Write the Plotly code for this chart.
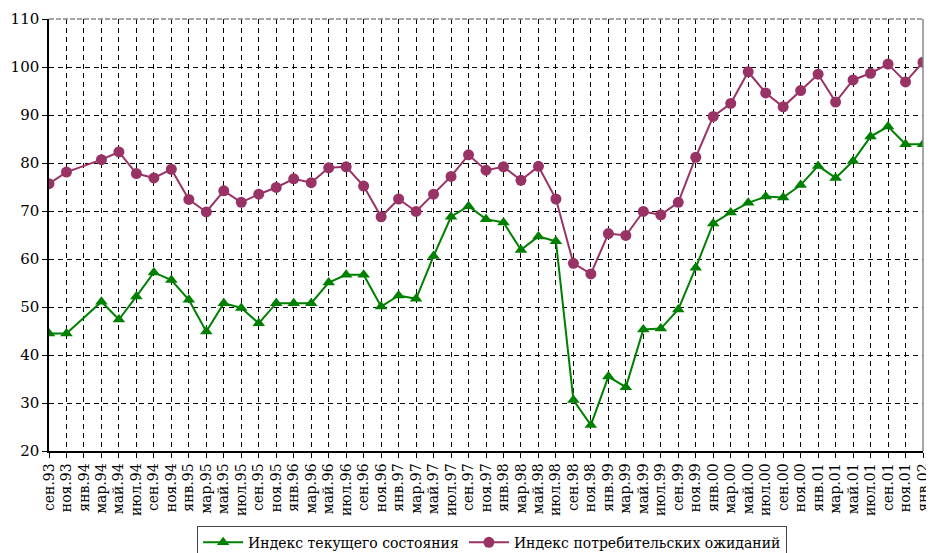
import plotly.graph_objects as go

categories = ["сен.93","ноя.93","янв.94","мар.94","май.94","июл.94","сен.94","ноя.94",
              "янв.95","мар.95","май.95","июл.95","сен.95","ноя.95","янв.96","мар.96",
              "май.96","июл.96","сен.96","ноя.96","янв.97","мар.97","май.97","июл.97",
              "сен.97","ноя.97","янв.98","мар.98","май.98","июл.98","сен.98","ноя.98",
              "янв.99","мар.99","май.99","июл.99","сен.99","ноя.99","янв.00","мар.00",
              "май.00","июл.00","сен.00","ноя.00","янв.01","мар.01","май.01","июл.01",
              "сен.01","ноя.01","янв.02"]

current_index = [44.5, 44.5, None, 51.1, 47.4, 52.2, 57.2, 55.6,
                 51.5, 44.9, 50.8, 49.8, 46.6, 50.8, 50.8, 50.8,
                 55.1, 56.7, 56.7, 50.1, 52.4, 51.7, 60.6, 68.8,
                 71.0, 68.3, 67.6, 61.9, 64.7, 63.7, 30.6, 25.4,
                 35.5, 33.3, 45.3, 45.5, 49.5, 58.2, 67.4, 69.7,
                 71.7, 73.0, 72.8, 75.4, 79.4, 76.9, 80.4, 85.5,
                 87.6, 83.9, 83.9]

expect_index = [75.7, 78.1, None, 80.7, 82.3, 77.8, 76.9, 78.7,
                72.4, 69.8, 74.2, 71.8, 73.5, 74.9, 76.7, 75.9,
                79.0, 79.2, 75.2, 68.8, 72.5, 69.9, 73.5, 77.2,
                81.7, 78.5, 79.2, 76.4, 79.3, 72.5, 59.1, 56.9,
                65.3, 64.9, 69.9, 69.2, 71.8, 81.2, 89.7, 92.4,
                99.0, 94.6, 91.7, 95.1, 98.5, 92.7, 97.3, 98.7,
                100.6, 96.9, 101.0]

series_names = ["Индекс текущего состояния", "Индекс потребительских ожиданий"]
y_ticks = [20, 30, 40, 50, 60, 70, 80, 90, 100, 110]

FONT = "DejaVu Serif"

fig = go.Figure()
fig.add_trace(go.Scatter(x=categories, y=current_index, name=series_names[0],
                         mode="lines+markers", connectgaps=True,
                         line=dict(color="#008000", width=2),
                         marker=dict(symbol="triangle-up", size=11, color="#008000")))
fig.add_trace(go.Scatter(x=categories, y=expect_index, name=series_names[1],
                         mode="lines+markers", connectgaps=True,
                         line=dict(color="#993366", width=2),
                         marker=dict(symbol="circle", size=11, color="#993366")))

# page body has an 8px default margin: figure is offset by 8px
fig.update_layout(
    width=926, height=545,
    margin=dict(l=41, r=11, t=11, b=102),
    paper_bgcolor="white", plot_bgcolor="white",
    font=dict(family=FONT, color="black", size=15),
    showlegend=True,
    legend=dict(orientation="h", x=0.507, xanchor="center",
                yref="container", y=0.05, yanchor="top",
                bordercolor="#444", borderwidth=1, font=dict(size=14, family=FONT),
                itemwidth=40, tracegroupgap=0),
)
fig.update_xaxes(type="category", categoryorder="array", categoryarray=categories,
                 range=[0, len(categories) - 1], automargin=False,
                 tickmode="array", tickvals=categories, ticktext=categories,
                 tickangle=-90, tickfont=dict(size=14, family=FONT),
                 showgrid=True, gridcolor="black", gridwidth=1, griddash="5px,4px",
                 showline=True, linecolor="black", linewidth=1.5,
                 ticks="outside", ticklen=5, tickcolor="black",
                 zeroline=False)
fig.update_yaxes(range=[20, 110], tickvals=y_ticks, tickfont=dict(size=15, family=FONT),
                 automargin=False,
                 showgrid=True, gridcolor="black", gridwidth=1, griddash="5px,4px",
                 showline=True, linecolor="black", linewidth=1.5,
                 ticks="outside", ticklen=5, tickcolor="black",
                 zeroline=False)
# gray frame on top and right
fig.add_shape(type="line", xref="paper", yref="paper", x0=0, x1=1, y0=1, y1=1,
              line=dict(color="#888", width=1.5, dash="5px,2px"))
fig.add_shape(type="line", xref="paper", yref="paper", x0=1, x1=1, y0=0, y1=1,
              line=dict(color="#888", width=1.5))

fig.write_html("out.html")
